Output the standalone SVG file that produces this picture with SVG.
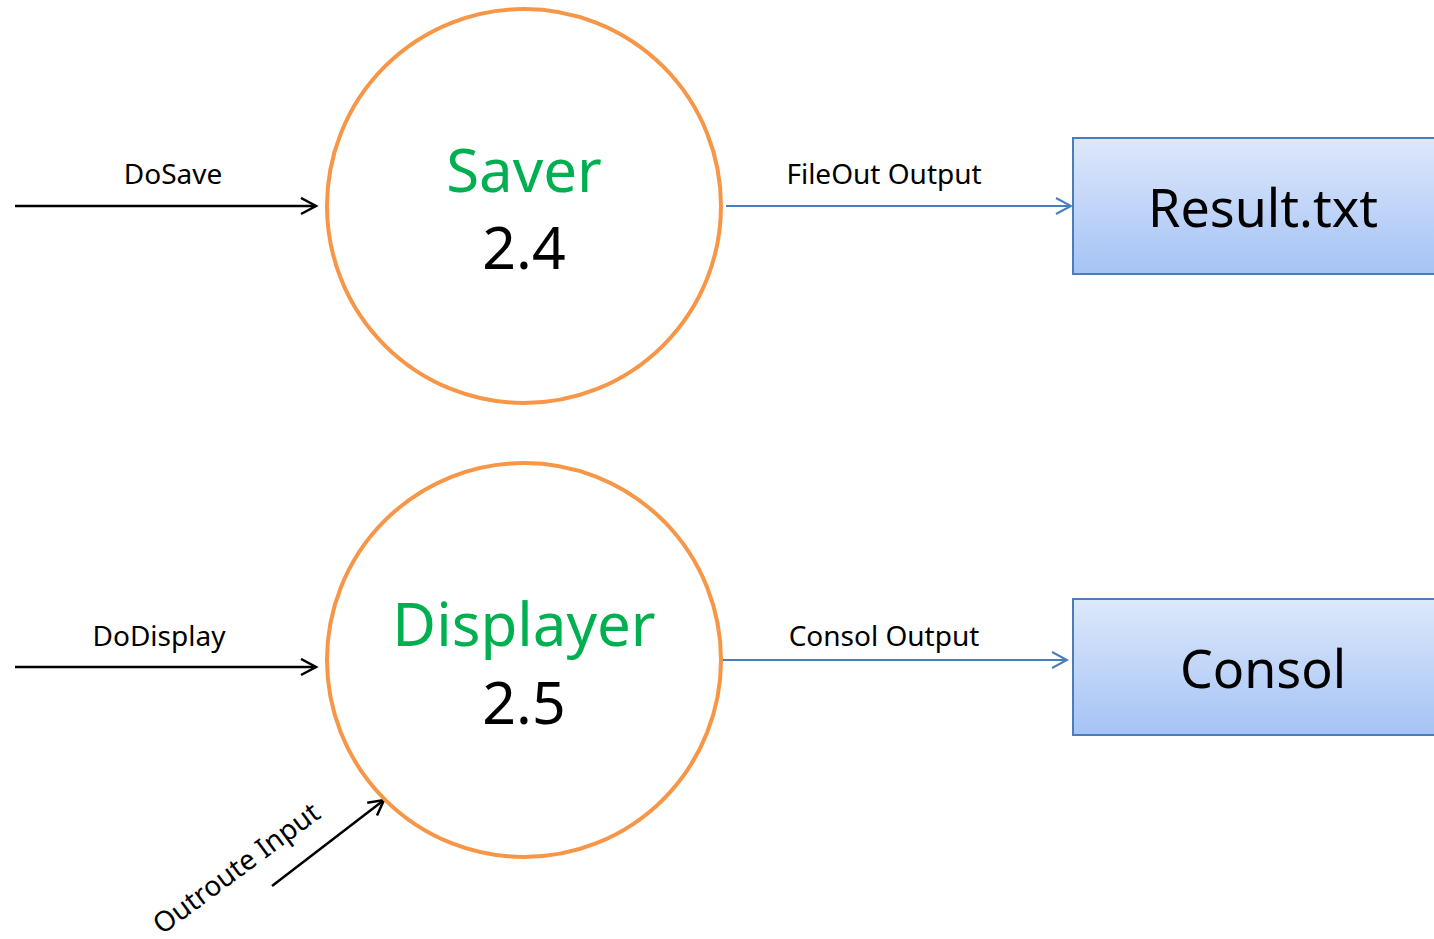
<svg xmlns="http://www.w3.org/2000/svg" width="1434" height="939" viewBox="0 0 1434 939">
<style>
.proc{fill:#fff;stroke:#f79646;stroke-width:4}
.store{fill:url(#g);stroke:#4a7ebb;stroke-width:2}
.t{font-family:"Noto Sans","Open Sans","Liberation Sans",sans-serif;text-anchor:middle}
.name{fill:#00b050;font-size:60px}
.num{fill:#000;font-size:59px}
.sname{fill:#000;font-size:52px}
.lbl{fill:#000;font-size:28px}
.blk{stroke:#000;stroke-width:2.5;fill:none}
.blu{stroke:#4a7ebb;stroke-width:2;fill:none}
</style>
<defs>
<linearGradient id="g" x1="0" y1="0" x2="0" y2="1">
<stop offset="0" stop-color="#dde8fb"/>
<stop offset="1" stop-color="#a5c3f5"/>
</linearGradient>
<marker id="ak" markerWidth="20" markerHeight="20" refX="16" refY="9" orient="auto" markerUnits="userSpaceOnUse">
<path d="M1,1 L16,9 L1,17" fill="none" stroke="#000" stroke-width="2.5"/>
</marker>
<marker id="ab" markerWidth="20" markerHeight="20" refX="16" refY="9" orient="auto" markerUnits="userSpaceOnUse">
<path d="M1,1 L16,9 L1,17" fill="none" stroke="#4a7ebb" stroke-width="2"/>
</marker>
</defs>
<g id="connectors">
<line class="blk" x1="15" y1="206" x2="316" y2="206" marker-end="url(#ak)"/>
<line class="blu" x1="726" y1="206" x2="1071" y2="206" marker-end="url(#ab)"/>
<line class="blk" x1="15" y1="667" x2="316" y2="667" marker-end="url(#ak)"/>
<line class="blu" x1="721" y1="660" x2="1067" y2="660" marker-end="url(#ab)"/>
<line class="blk" x1="272" y1="886" x2="384" y2="800" marker-end="url(#ak)"/>
<text class="t lbl" x="173" y="184">DoSave</text>
<text class="t lbl" x="884" y="184">FileOut Output</text>
<text class="t lbl" x="159" y="646">DoDisplay</text>
<text class="t lbl" x="884" y="646">Consol Output</text>
<text class="t lbl" transform="translate(242,876) rotate(-36.5)">Outroute Input</text>
</g>
<g id="saver">
<circle class="proc" cx="524" cy="206" r="197"/>
<text class="t name" x="524" y="192">Saver</text>
<text class="t num" x="524" y="269">2.4</text>
</g>
<g id="displayer">
<circle class="proc" cx="524" cy="660" r="197"/>
<text class="t name" x="524" y="646">Displayer</text>
<text class="t num" x="524" y="724">2.5</text>
</g>
<g id="result">
<rect class="store" x="1073" y="138" width="380" height="136"/>
<text class="t sname" x="1263" y="227">Result.txt</text>
</g>
<g id="consol">
<rect class="store" x="1073" y="599" width="380" height="136"/>
<text class="t sname" x="1263" y="688">Consol</text>
</g>
</svg>
